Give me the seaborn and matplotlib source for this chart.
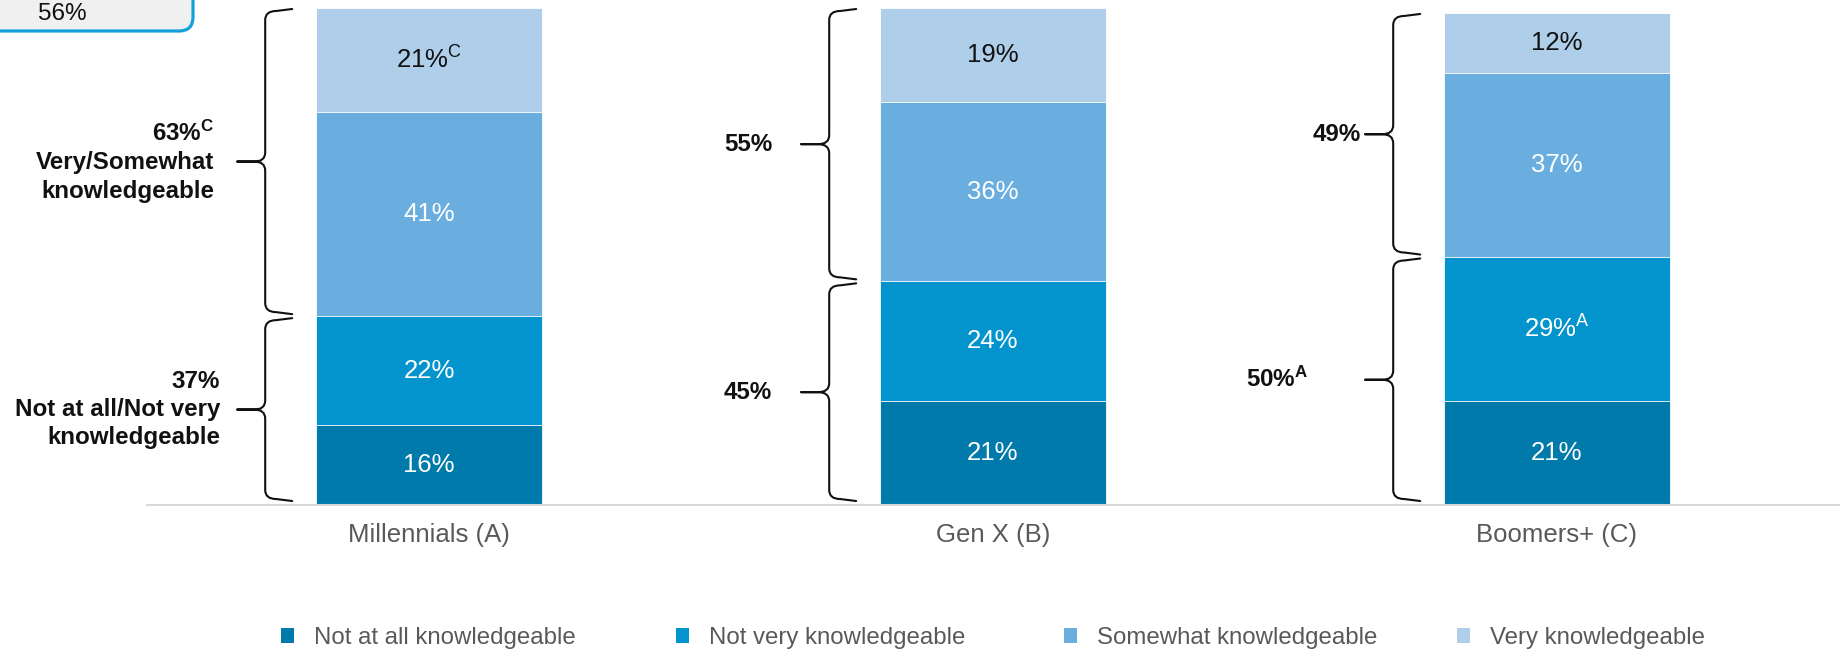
import numpy as np
import pandas as pd
import matplotlib
matplotlib.use("Agg")
import matplotlib.pyplot as plt
import matplotlib.transforms as mtransforms
from matplotlib.path import Path
from matplotlib.patches import PathPatch, FancyBboxPatch, Patch
import seaborn as sns

# ---- data -------------------------------------------------------------
generations = ["Millennials (A)", "Gen X (B)", "Boomers+ (C)"]
levels = ["Not at all knowledgeable", "Not very knowledgeable",
          "Somewhat knowledgeable", "Very knowledgeable"]
not_at_all = [16, 21, 21]
not_very = [22, 24, 29]
somewhat = [41, 36, 37]
very = [21, 19, 12]

# significance letters attached to the segment labels
not_at_all_sig = ["", "", ""]
not_very_sig = ["", "", "A"]
somewhat_sig = ["", "", ""]
very_sig = ["C", "", ""]

# net groupings shown beside each bar
net_knowledgeable = [63, 55, 49]
net_knowledgeable_sig = ["C", "", ""]
net_not_knowledgeable = [37, 45, 50]
net_not_knowledgeable_sig = ["", "", "A"]
net_top_caption = ["Very/Somewhat\nknowledgeable", "", ""]
net_bottom_caption = ["Not at all/Not very\nknowledgeable", "", ""]

callout_value = "56%"

# ---- style ------------------------------------------------------------
sns.set_theme(style="white")
plt.rcParams["font.family"] = ["Liberation Sans", "DejaVu Sans"]
plt.rcParams["mathtext.fontset"] = "custom"
plt.rcParams["mathtext.rm"] = "Liberation Sans"
plt.rcParams["mathtext.bf"] = "Liberation Sans:bold"
plt.rcParams["mathtext.it"] = "Liberation Sans:italic"

colors = ["#0079AB", "#0394CE", "#6AAEDF", "#AECEEA"]
grey_text = "#595959"
FS_VALUE = 18.5
FS_BOLD = 17.4
FS_TICK = 18.5
FS_LEGEND = 17.3

W, H, DPI = 1843, 654, 100
fig = plt.figure(figsize=(W / DPI, H / DPI), dpi=DPI)
ax = fig.add_axes([147 / W, (H - 505) / H, (1839 - 147) / W, 497 / H])

layers = [not_at_all, not_very, somewhat, very]
layer_sigs = [not_at_all_sig, not_very_sig, somewhat_sig, very_sig]
df = pd.DataFrame({"generation": generations})
for name, vals in zip(levels, layers):
    df[name] = vals
cum = df[levels].cumsum(axis=1)

BAR_W = 0.4
# stacked bars: draw cumulative totals from the top layer down
for k in range(len(levels) - 1, -1, -1):
    sns.barplot(x=df["generation"], y=cum[levels[k]], color=colors[k],
                width=BAR_W, saturation=1, errorbar=None, ax=ax,
                edgecolor="white", linewidth=0.6, order=generations)


def with_sig(value, sig, bold=False):
    s = f"{value}%"
    if sig:
        s += (r"$^{\mathbf{%s}}$" if bold else r"$^{\mathrm{%s}}$") % sig
    return s


# segment labels
for i in range(len(generations)):
    base = 0
    for k, name in enumerate(levels):
        v = df.loc[i, name]
        ax.text(i, base + v / 2, with_sig(v, layer_sigs[k][i]),
                ha="center", va="center", fontsize=FS_VALUE,
                color="#111111" if k == 3 else "white")
        base += v

# ---- braces -------------------------------------------------------------
PX_X = 1 / 564.0   # data units per pixel (x)
PX_Y = 1 / 4.97    # data units per pixel (y)


def brace(ax, x_line, x_end, x_tip, y_bot, y_top):
    rx, ry = 11 * PX_X, 9 * PX_Y
    y_mid = (y_bot + y_top) / 2
    s = 2 * PX_Y
    verts = [
        (x_end, y_top), (x_line + rx, y_top - s),
        (x_line, y_top - s), (x_line, y_top - s - ry),
        (x_line, y_mid + ry),
        (x_line, y_mid), (x_line - rx, y_mid),
        (x_tip, y_mid),
        (x_line - rx, y_mid),
        (x_line, y_mid), (x_line, y_mid - ry),
        (x_line, y_bot + s + ry),
        (x_line, y_bot + s), (x_line + rx, y_bot + s),
        (x_end, y_bot),
    ]
    codes = [Path.MOVETO, Path.LINETO,
             Path.CURVE3, Path.CURVE3,
             Path.LINETO,
             Path.CURVE3, Path.CURVE3,
             Path.LINETO,
             Path.LINETO,
             Path.CURVE3, Path.CURVE3,
             Path.LINETO,
             Path.CURVE3, Path.CURVE3,
             Path.LINETO]
    ax.add_patch(PathPatch(Path(verts, codes), facecolor="none",
                           edgecolor="#111111", lw=1.5, clip_on=False,
                           capstyle="round", joinstyle="round"))
    return y_mid


# label right edges, in pixels left of each bar's left edge
top_label_dx = [102, 108, 83]
bottom_label_dx = [96, 108, 136]

for i in range(len(generations)):
    left = i - BAR_W / 2
    x_line = left - 51 * PX_X
    x_end = left - 24 * PX_X
    x_tip = left - 79 * PX_X
    low_total = not_at_all[i] + not_very[i]
    total = cum.loc[i, levels[-1]]
    y_mid_top = brace(ax, x_line, x_end, x_tip, low_total + 0.4, total - 0.2)
    y_mid_bot = brace(ax, x_line, x_end, x_tip, 0.8, low_total - 0.4)

    t = with_sig(net_knowledgeable[i], net_knowledgeable_sig[i], bold=True)
    if net_top_caption[i]:
        t += "\n" + net_top_caption[i]
    ax.text(left - top_label_dx[i] * PX_X, y_mid_top, t, ha="right",
            va="center", fontsize=FS_BOLD, fontweight="bold", color="#111111",
            linespacing=1.3, multialignment="right")

    b = with_sig(net_not_knowledgeable[i], net_not_knowledgeable_sig[i], bold=True)
    if net_bottom_caption[i]:
        b += "\n" + net_bottom_caption[i]
    ax.text(left - bottom_label_dx[i] * PX_X, y_mid_bot, b, ha="right",
            va="center", fontsize=FS_BOLD, fontweight="bold", color="#111111",
            linespacing=1.3, multialignment="right")

# ---- axes -------------------------------------------------------------
ax.set_xlim(-0.5, 2.5)
ax.set_ylim(0, 100)
ax.set_xlabel("")
ax.set_ylabel("")
ax.set_yticks([])
for side in ["left", "right", "top"]:
    ax.spines[side].set_visible(False)
ax.spines["bottom"].set_color("#D9D9D9")
ax.spines["bottom"].set_linewidth(1.5)
ax.tick_params(axis="x", length=0, pad=13, labelsize=FS_TICK, labelcolor=grey_text)

# ---- legend: one entry per anchor so the keys sit at fixed positions ----
legend_x = [281, 676, 1064, 1457]
for c, lab, lx in zip(colors, levels, legend_x):
    leg = fig.legend(handles=[Patch(facecolor=c, edgecolor="none", label=lab)],
                     loc="center left", bbox_to_anchor=(lx / W, 16 / H),
                     frameon=False, handlelength=0.54, handleheight=0.54,
                     handletextpad=0.83, borderpad=0, borderaxespad=0,
                     fontsize=FS_LEGEND)
    for txt in leg.get_texts():
        txt.set_color(grey_text)

# ---- callout box in the top-left corner ----------------------------------
box = FancyBboxPatch((-30, H - 31), 223, 60,
                     boxstyle="round,pad=0,rounding_size=14",
                     transform=mtransforms.IdentityTransform(),
                     facecolor="#F0F0F0", edgecolor="#13A0DB", lw=2.3,
                     clip_on=False)
fig.patches.append(box)
fig.text(62 / W, 1 - 14 / H, callout_value, ha="center", va="center",
         fontsize=17.5, color="#111111")

fig.savefig("out.png", dpi=DPI)
